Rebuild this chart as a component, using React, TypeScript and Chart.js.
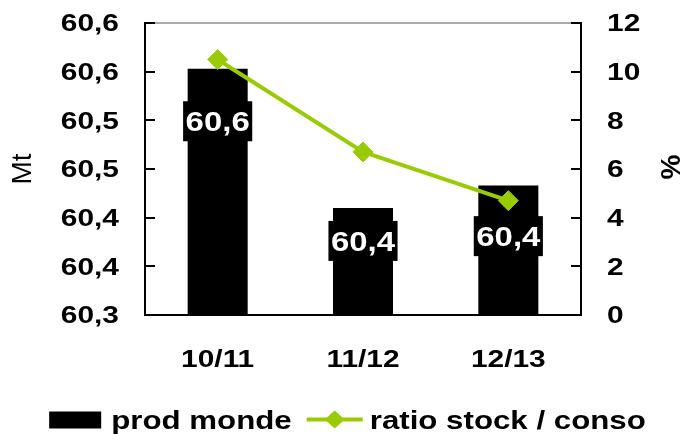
import React, { useEffect, useRef } from 'react';
import { Chart, registerables } from 'chart.js';

Chart.register(...registerables);

const categories = ['10/11', '11/12', '12/13'];
const prodMonde = [60.553, 60.41, 60.433];
const ratioStockConso = [10.5, 6.7, 4.7];
const barValueLabels = ['60,6', '60,4', '60,4'];
const leftTickLabels = ['60,3', '60,4', '60,4', '60,5', '60,5', '60,6', '60,6'];
const rightTickLabels = ['0', '2', '4', '6', '8', '10', '12'];
const seriesNames = ['prod monde', 'ratio stock / conso'];
const leftAxisTitle = 'Mt';
const rightAxisTitle = '%';

const FAMILY = '"Liberation Sans", Arial, Helvetica, sans-serif';
const GREEN = '#99CC00';

function stretchedText(
  ctx: CanvasRenderingContext2D,
  text: string,
  x: number,
  y: number,
  align: CanvasTextAlign,
  sx: number
) {
  ctx.save();
  ctx.translate(x, y);
  ctx.scale(sx, 1);
  ctx.textAlign = align;
  ctx.textBaseline = 'alphabetic';
  ctx.fillText(text, 0, 0);
  ctx.restore();
}

const decorPlugin = {
  id: 'decor',
  afterDatasetsDraw(chart: any, _args: any, opts: any) {
    const ctx: CanvasRenderingContext2D = chart.ctx;
    const meta = chart.getDatasetMeta(0);
    ctx.save();
    ctx.font = `bold ${opts.barLabelSize}px ${FAMILY}`;
    meta.data.forEach((bar: any, i: number) => {
      const label = barValueLabels[i];
      const tw = ctx.measureText(label).width * opts.barLabelSx;
      const cy = bar.y + opts.labelOffsets[i];
      const bw = tw + 5;
      const bh = 40;
      ctx.fillStyle = '#000';
      ctx.fillRect(bar.x - bw / 2, cy - bh / 2, bw, bh);
      ctx.fillStyle = '#fff';
      stretchedText(ctx, label, bar.x, cy + (opts.barLabelSize * 0.716) / 2, 'center', opts.barLabelSx);
    });
    ctx.restore();
  },
  afterDraw(chart: any, _args: any, opts: any) {
    const ctx: CanvasRenderingContext2D = chart.ctx;
    const area = chart.chartArea;
    const yL = chart.scales.y;
    const yR = chart.scales.y1;
    const xS = chart.scales.x;
    ctx.save();

    // top frame line
    ctx.strokeStyle = '#8c8c8c';
    ctx.lineWidth = 1.5;
    ctx.beginPath();
    ctx.moveTo(area.left, area.top);
    ctx.lineTo(area.right, area.top);
    ctx.stroke();

    // inward tick marks
    ctx.strokeStyle = '#000';
    ctx.lineWidth = 2;
    yL.ticks.forEach((t: any) => {
      const py = Math.round(yL.getPixelForValue(t.value));
      ctx.beginPath();
      ctx.moveTo(area.left, py);
      ctx.lineTo(area.left + 10, py);
      ctx.stroke();
    });
    yR.ticks.forEach((t: any) => {
      const py = Math.round(yR.getPixelForValue(t.value));
      ctx.beginPath();
      ctx.moveTo(area.right, py);
      ctx.lineTo(area.right - 10, py);
      ctx.stroke();
    });

    // tick labels
    ctx.fillStyle = '#000';
    ctx.font = `bold ${opts.tickSize}px ${FAMILY}`;
    const half = (opts.tickSize * 0.716) / 2;
    yL.ticks.forEach((t: any, i: number) => {
      const py = yL.getPixelForValue(t.value);
      stretchedText(ctx, leftTickLabels[i], area.left - 26, py + half, 'right', opts.tickSx);
    });
    yR.ticks.forEach((t: any, i: number) => {
      const py = yR.getPixelForValue(t.value);
      stretchedText(ctx, rightTickLabels[i], area.right + 26, py + half, 'left', opts.tickSx);
    });
    categories.forEach((c, i) => {
      const px = xS.getPixelForValue(i);
      stretchedText(ctx, c, px, area.bottom + 52, 'center', opts.tickSx);
    });

    // axis titles
    ctx.font = `28px ${FAMILY}`;
    ctx.save();
    ctx.translate(23, (area.top + area.bottom) / 2);
    ctx.rotate(-Math.PI / 2);
    ctx.textAlign = 'center';
    ctx.textBaseline = 'middle';
    ctx.fillText(leftAxisTitle, 0, 0);
    ctx.restore();
    ctx.font = `bold 28px ${FAMILY}`;
    ctx.save();
    ctx.translate(672, (area.top + area.bottom) / 2 - 2);
    ctx.rotate(-Math.PI / 2);
    ctx.textAlign = 'center';
    ctx.textBaseline = 'middle';
    ctx.fillText(rightAxisTitle, 0, 0);
    ctx.restore();

    // legend
    ctx.font = `bold ${opts.legendSize}px ${FAMILY}`;
    const sxL = opts.legendSx;
    const w1 = ctx.measureText(seriesNames[0]).width * sxL;
    const w2 = ctx.measureText(seriesNames[1]).width * sxL;
    const boxW = 52, lineW = 56, g1 = 10, g2 = 15, g3 = 7;
    const total = boxW + g1 + w1 + g2 + lineW + g3 + w2;
    let x = (chart.width - total) / 2 + 4;
    const cy = 419.5;
    ctx.fillStyle = '#000';
    ctx.fillRect(x, cy - 8, boxW, 17);
    x += boxW + g1;
    stretchedText(ctx, seriesNames[0], x, cy + 9, 'left', sxL);
    x += w1 + g2;
    ctx.strokeStyle = GREEN;
    ctx.lineWidth = 4;
    ctx.beginPath();
    ctx.moveTo(x, cy);
    ctx.lineTo(x + lineW, cy);
    ctx.stroke();
    const mx = x + lineW / 2;
    ctx.fillStyle = GREEN;
    ctx.beginPath();
    ctx.moveTo(mx - 10, cy);
    ctx.lineTo(mx, cy - 9);
    ctx.lineTo(mx + 10, cy);
    ctx.lineTo(mx, cy + 9);
    ctx.closePath();
    ctx.fill();
    x += lineW + g3;
    ctx.fillStyle = '#000';
    stretchedText(ctx, seriesNames[1], x, cy + 9, 'left', sxL);

    ctx.restore();
  },
};

export default function App() {
  const canvasRef = useRef<HTMLCanvasElement | null>(null);

  useEffect(() => {
    document.body.style.margin = '0';
    const canvas = canvasRef.current;
    if (!canvas) return;
    const chart = new Chart(canvas, {
      type: 'bar',
      data: {
        labels: categories,
        datasets: [
          {
            type: 'bar',
            label: seriesNames[0],
            data: prodMonde,
            yAxisID: 'y',
            backgroundColor: '#000000',
            borderWidth: 0,
            barPercentage: 0.413,
            categoryPercentage: 1,
            order: 2,
          } as any,
          {
            type: 'line',
            label: seriesNames[1],
            data: ratioStockConso,
            yAxisID: 'y1',
            borderColor: GREEN,
            backgroundColor: GREEN,
            borderWidth: 4,
            pointStyle: 'rectRot',
            pointRadius: 10,
            pointBackgroundColor: GREEN,
            pointBorderColor: GREEN,
            pointBorderWidth: 1,
            tension: 0,
            order: 1,
          } as any,
        ],
      },
      options: {
        animation: false,
        responsive: true,
        maintainAspectRatio: false,
        layout: { padding: { top: 23, left: 0, right: 0, bottom: 0 } },
        plugins: {
          legend: { display: false },
          tooltip: { enabled: false },
          decor: {
            tickSize: 23,
            tickSx: 1.3,
            barLabelSize: 27,
            barLabelSx: 1.22,
            legendSize: 25,
            legendSx: 1.25,
            labelOffsets: [52.5, 33, 50.6],
          },
        } as any,
        scales: {
          x: {
            type: 'category',
            offset: true,
            grid: { display: true, drawOnChartArea: false, drawTicks: false },
            border: { display: true, color: '#000', width: 2 },
            ticks: { display: false },
            afterFit: (s: any) => {
              s.height = 119;
            },
          },
          y: {
            type: 'linear',
            position: 'left',
            min: 60.3,
            max: 60.6,
            ticks: { display: false, stepSize: 0.05 },
            grid: { display: true, drawOnChartArea: false, drawTicks: false },
            border: { display: true, color: '#000', width: 2 },
            afterFit: (s: any) => {
              s.width = 145;
            },
          },
          y1: {
            type: 'linear',
            position: 'right',
            min: 0,
            max: 12,
            ticks: { display: false, stepSize: 2 },
            grid: { display: true, drawOnChartArea: false, drawTicks: false },
            border: { display: true, color: '#000', width: 2 },
            afterFit: (s: any) => {
              s.width = 106;
            },
          },
        },
      } as any,
      plugins: [decorPlugin],
    });
    return () => chart.destroy();
  }, []);

  return (
    <div style={{ position: 'absolute', left: 0, top: 0, width: 687, height: 434, background: '#fff' }}>
      <canvas ref={canvasRef} style={{ display: 'block' }} />
    </div>
  );
}
